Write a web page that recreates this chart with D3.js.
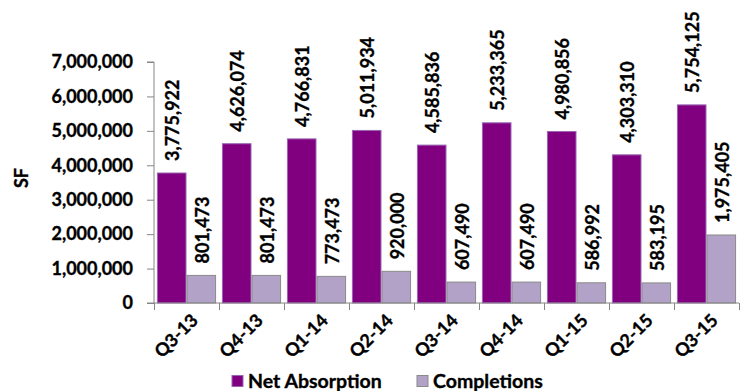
<!DOCTYPE html>
<html>
<head>
<meta charset="utf-8">
<script src="https://cdn.jsdelivr.net/npm/d3@7"></script>
<style>
  body { margin: 0; background: #fff; }
  svg { display: block; font-family: Lato, "Open Sans", sans-serif; font-weight: bold; }
  text { stroke: #000; stroke-width: 0.35px; }
</style>
</head>
<body>
<svg width="743" height="391"></svg>
<script>
const quarters = ["Q3-13","Q4-13","Q1-14","Q2-14","Q3-14","Q4-14","Q1-15","Q2-15","Q3-15"]
const netAbsorption = [3775922, 4626074, 4766831, 5011934, 4585836, 5233365, 4980856, 4303310, 5754125]
const completions = [801473, 801473, 773473, 920000, 607490, 607490, 586992, 583195, 1975405]
const seriesNames = ["Net Absorption", "Completions"]
const yTicks = [0, 1000000, 2000000, 3000000, 4000000, 5000000, 6000000, 7000000]

const colors = ["#800080", "#b3a2c7"]
const strokes = ["#9966b3", "#8a8a8a"]
const axisColor = "#868686"
const fmt = d3.format(",")

const svg = d3.select("svg")
const plotL = 154, plotR = 739, plotT = 62, plotB = 303

const x0 = d3.scaleBand().domain(quarters).range([plotL, plotR]).paddingInner(0.09).paddingOuter(0.045)
const x1 = d3.scaleBand().domain(seriesNames).range([0, x0.bandwidth()])
const y = d3.scaleLinear().domain([0, 7000000]).range([plotB, plotT])

const rows = quarters.map((q, i) => ({q, vals: [netAbsorption[i], completions[i]]}))

// bars
const groups = svg.append("g").selectAll("g").data(rows).join("g")
    .attr("transform", d => `translate(${x0(d.q)},0)`)

groups.selectAll("rect").data(d => d.vals.map((v, k) => ({v, k})))
    .join("rect")
    .attr("x", d => x1(seriesNames[d.k]) + 0.5)
    .attr("width", x1.bandwidth() - 1)
    .attr("y", d => y(d.v))
    .attr("height", d => y(0) - y(d.v))
    .attr("fill", d => colors[d.k])
    .attr("stroke", d => strokes[d.k])
    .attr("stroke-width", 1)

// value labels
groups.selectAll("text").data(d => d.vals.map((v, k) => ({v, k})))
    .join("text")
    .attr("transform", d => `translate(${x1(seriesNames[d.k]) + x1.bandwidth() / 2 + 1},${y(d.v) - 12}) rotate(-90)`)
    .attr("dy", "0.36em")
    .attr("font-size", 18)
    .attr("fill", "#000")
    .text(d => fmt(d.v))

// y axis
const yAxis = svg.append("g")
    .attr("transform", `translate(${plotL},0)`)
    .call(d3.axisLeft(y).tickValues(yTicks).tickFormat(fmt).tickSize(7).tickPadding(14))
yAxis.select(".domain").attr("stroke", axisColor).attr("d", `M-7,${plotT}H0V${plotB}`)
yAxis.selectAll(".tick line").attr("stroke", axisColor)
yAxis.selectAll(".tick text").attr("font-size", 18).attr("fill", "#000")
    .attr("font-family", "Lato, sans-serif").attr("font-weight", "bold")

// x axis: boundary ticks
const xb = d3.scaleLinear().domain([0, quarters.length]).range([plotL, plotR])
const xAxis = svg.append("g")
    .attr("transform", `translate(0,${plotB})`)
    .call(d3.axisBottom(xb).ticks(quarters.length).tickFormat("").tickSize(7))
xAxis.select(".domain").attr("stroke", axisColor).attr("d", `M${plotL - 7},0H${plotR}`)
xAxis.selectAll(".tick line").attr("stroke", axisColor)

// x labels
svg.append("g").selectAll("text").data(quarters).join("text")
    .attr("transform", d => `translate(${x0(d) + x0.bandwidth() / 2 + 8},${plotB + 14}) rotate(-45)`)
    .attr("text-anchor", "end")
    .attr("dy", "0.36em")
    .attr("font-size", 18)
    .text(d => d)

// y title
svg.append("text")
    .attr("transform", `translate(22,178) rotate(-90)`)
    .attr("text-anchor", "middle")
    .attr("dy", "0.36em")
    .attr("font-size", 18)
    .text("SF")

// legend
const legendX = [232, 417]
const legend = svg.append("g").selectAll("g").data(seriesNames).join("g")
    .attr("transform", (d, i) => `translate(${legendX[i]},381)`)
legend.append("rect")
    .attr("x", 0).attr("y", -5.5).attr("width", 11).attr("height", 11)
    .attr("fill", (d, i) => colors[i]).attr("stroke", (d, i) => strokes[i])
legend.append("text")
    .attr("x", 16).attr("dy", "0.36em")
    .attr("font-size", 19.5)
    .text(d => d)
</script>
</body>
</html>
